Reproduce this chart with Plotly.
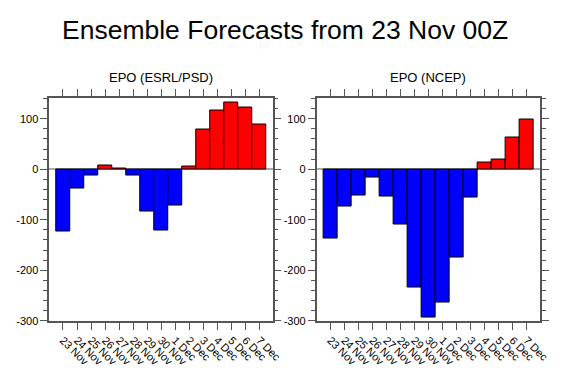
import plotly.graph_objects as go

dates = ["23 Nov", "24 Nov", "25 Nov", "26 Nov", "27 Nov", "28 Nov", "29 Nov", "30 Nov",
         "1 Dec", "2 Dec", "3 Dec", "4 Dec", "5 Dec", "6 Dec", "7 Dec"]
epo_esrl = [-123, -38, -13, 8, 2, -12, -84, -122, -72, 5, 78, 116, 132, 122, 89]
epo_ncep = [-138, -74, -52, -17, -53, -110, -235, -294, -264, -174, -55, 14, 20, 63, 99]
y_tickvals = [-300, -200, -100, 0, 100]
y_ticktext = ["-300", "-200", "-100", "0", "100"]

main_title = "Ensemble Forecasts from 23 Nov 00Z"
sub_titles = ["EPO (ESRL/PSD)", "EPO (NCEP)"]

FONT = "Liberation Sans, Arial, Helvetica, sans-serif"
OFF = 8  # default page body margin
W, H = 571 - 2 * OFF, 385 - 2 * OFF
xs = list(range(len(dates)))

def px(x):
    return (x - OFF) / W

def py(y):
    return 1 - (y - OFF) / H

def colors(vals):
    return ["#ff0000" if v >= 0 else "#0000ff" for v in vals]

fig = go.Figure()
for i, vals in enumerate([epo_esrl, epo_ncep]):
    sfx = "" if i == 0 else "2"
    fig.add_trace(go.Bar(
        x=xs, y=vals, width=1.0,
        marker=dict(color=colors(vals), line=dict(color="black", width=1)),
        xaxis="x" + sfx, yaxis="y" + sfx, showlegend=False, hoverinfo="x+y"))

dom_x = [[px(50), px(277.5)], [px(322.3), px(549.7)]]
dom_y = [py(326), py(99)]

axcommon = dict(showline=True, linecolor="#555555", linewidth=1.5, mirror="allticks",
                ticks="outside", tickcolor="#555555", showgrid=False)
for i in range(2):
    sfx = "" if i == 0 else "2"
    fig.layout["xaxis" + sfx] = dict(
        domain=dom_x[i], anchor="y" + sfx, range=[-0.98, 14.95],
        tickvals=xs, ticktext=dates, tickangle=45, ticklen=7, tickwidth=1,
        tickfont=dict(family=FONT, size=11, color="black"), zeroline=False, **axcommon)
    fig.layout["yaxis" + sfx] = dict(
        domain=dom_y, anchor="x" + sfx, range=[-300, 142],
        tickvals=y_tickvals, ticktext=y_ticktext, ticklen=7, tickwidth=1,
        tickfont=dict(family=FONT, size=11, color="black"),
        minor=dict(dtick=20, tick0=0, ticks="outside", ticklen=4, tickcolor="#555555", tickwidth=1),
        zeroline=True, zerolinecolor="#aaaaaa", zerolinewidth=1.5, **axcommon)

annos = [dict(text=main_title, x=px(290), y=py(30), xref="paper", yref="paper",
              showarrow=False, font=dict(family=FONT, size=26.5, color="black"),
              xanchor="center", yanchor="middle")]
for i in range(2):
    annos.append(dict(text=sub_titles[i], x=(dom_x[i][0] + dom_x[i][1]) / 2, y=py(79),
                      xref="paper", yref="paper", showarrow=False,
                      font=dict(family=FONT, size=13, color="black"),
                      xanchor="center", yanchor="middle"))

fig.update_layout(width=W, height=H, margin=dict(l=0, r=0, t=0, b=0),
                  paper_bgcolor="white", plot_bgcolor="white", annotations=annos,
                  bargap=0)
fig.write_html("out.html")
